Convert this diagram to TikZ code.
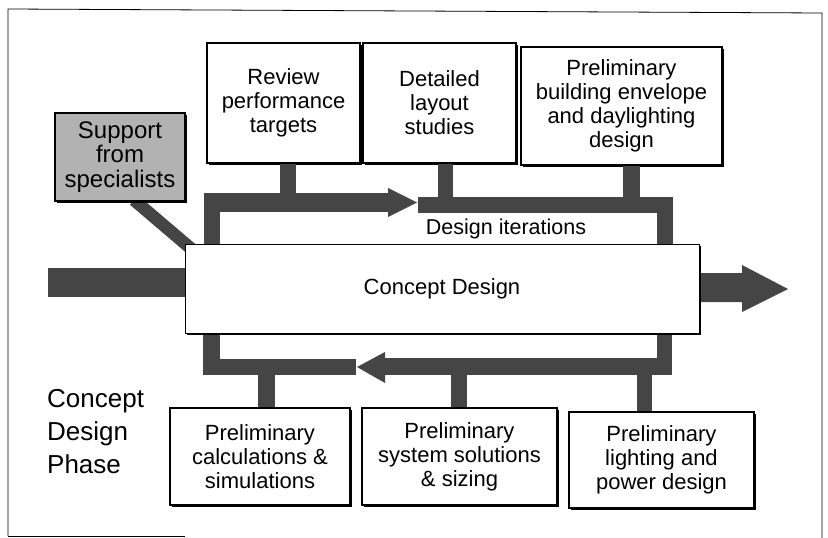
\documentclass[tikz,border=0pt]{standalone}
\usepackage{fontspec}
\setmainfont{Liberation Sans}
\usetikzlibrary{shadows}
\definecolor{bandc}{gray}{0.27}
\definecolor{suppc}{gray}{0.7}
\begin{document}
\begin{tikzpicture}[x=1pt,y=-1pt,
  box/.style={draw=black, line width=1.3pt, fill=white, align=center, inner sep=0pt,
    font=\fontsize{22}{24}\selectfont,
    general shadow={fill=black, shadow xshift=2.4pt, shadow yshift=-2.4pt}},
  band/.style={fill=bandc},
  frame/.style={draw=black, line width=0.8pt}]
\useasboundingbox (0,0) rectangle (828,538);
% outer frame
\draw[frame] (8,536) -- (8,9) -- (822,13) -- (822,538);
\draw[frame] (8,536) -- (185,536);

% boxes above and below the loops
\path
  node[box, minimum width=153pt, minimum height=120pt] (review) at (283.5,103) {Review\\performance\\targets}
  node[box, minimum width=153pt, minimum height=120pt] (layout) at (439.5,103) {Detailed\\layout\\studies}
  node[box, minimum width=201pt, minimum height=118pt] (envelope) at (621.5,106) {Preliminary\\building envelope\\and daylighting\\design}
  node[box, minimum width=180pt, minimum height=97pt] (calc) at (260,456.5) {Preliminary\\calculations \&\\simulations}
  node[box, minimum width=195pt, minimum height=97pt] (system) at (459.5,456.5) {Preliminary\\system solutions\\\& sizing}
  node[box, minimum width=185pt, minimum height=96pt] (lighting) at (661.5,460) {Preliminary\\lighting and\\power design};

% support diagonal (under boxes)
\coordinate (sd) at (195,252);
\draw[bandc, line width=12.5pt] (134,200) -- (sd);

% top loop
\fill[band] (204,193) rectangle (220,248);
\fill[band] (204,193) rectangle (388,212);
\fill[band] (388,188) -- (417,202.5) -- (388,217) -- cycle;
\fill[band] (418,197) rectangle (673,213);
\fill[band] (657,197) rectangle (673,248);
\fill[band] ([xshift=-4pt]review.south) rectangle ++(16,31);
\fill[band] ([xshift=-1.5pt]layout.south) rectangle ++(15,35);
\fill[band] ([xshift=1.5pt]envelope.south) rectangle ++(17,33);

% bottom loop
\fill[band] (203,328) rectangle (220,375);
\fill[band] (203,359) rectangle (356,375);
\fill[band] (357,367) -- (385,352) -- (385,383) -- cycle;
\fill[band] (385,358) rectangle (672,375);
\fill[band] (657,328) rectangle (672,375);
\fill[band] ([xshift=-2pt]calc.north) rectangle ++(17,-34);
\fill[band] ([xshift=-8.5pt]system.north) rectangle ++(16,-34);
\fill[band] ([xshift=-24.5pt]lighting.north) rectangle ++(15,-38);

% support box and concept box
\node[box, fill=suppc, minimum width=130pt, minimum height=88pt, font=\fontsize{24}{24.5}\selectfont] (support) at (120,157) {Support\\from\\specialists};
\node[box, line width=1pt, minimum width=514pt, minimum height=89pt, font=\fontsize{22}{26}\selectfont] (concept) at (442,288.5) {Concept Design};

% main flow arrows
\coordinate (in) at (48,268);
\coordinate (out) at (788,289);
\fill[band] (in) rectangle ([yshift=-8.5pt]concept.west);
\fill[band] ([xshift=1.5pt,yshift=15.5pt]concept.east) -- (742,273) -- (742,265) -- (out)
  -- (742,312) -- (742,302) -- ([xshift=1.5pt,yshift=-13.5pt]concept.east) -- cycle;

% labels
\node[font=\fontsize{21.5}{24}\selectfont] (iter) at (506,229) {Design iterations};
\node[anchor=west, align=left, inner sep=0pt, font=\fontsize{26}{33}\selectfont] (phase) at (47,431.5) {Concept\\Design\\Phase};
\end{tikzpicture}
\end{document}
